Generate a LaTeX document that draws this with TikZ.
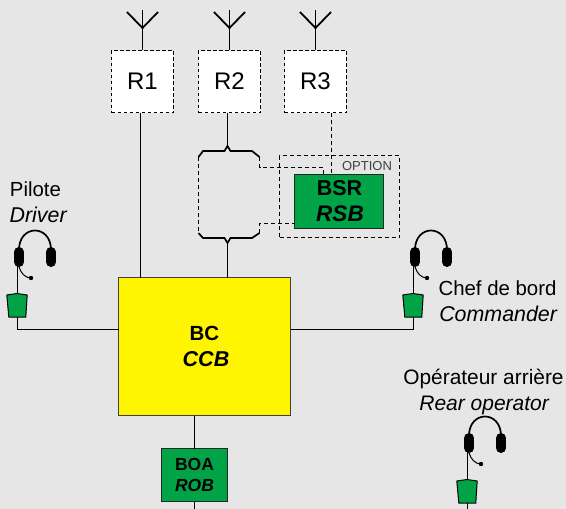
\documentclass[tikz,border=0pt]{standalone}
\usepackage{fontspec}
\setmainfont{Liberation Sans}
\usetikzlibrary{calc}
\definecolor{panelgrey}{HTML}{E6E6E6}
\definecolor{boxgreen}{HTML}{00A346}
\definecolor{boxyellow}{HTML}{FFF500}
\newcommand{\english}[2]{\textit{\fontsize{#1}{26}\selectfont #2}}

\begin{document}
\begin{tikzpicture}[x=1pt,y=-1pt,
	wire/.style={line width=1pt,black},
	dashwire/.style={line width=1pt,dash pattern=on 4pt off 3pt,black},
	brace/.style={line width=1.7pt,black},
	mast/.style={line width=1.8pt,black},
	radio/.style={draw,line width=1pt,dash pattern=on 3.5pt off 2.5pt,fill=white,minimum width=62pt,minimum height=62pt,inner sep=0pt,outer sep=0pt,font=\fontsize{24}{28}\selectfont},
	unit/.style={draw=black!85,line width=1pt,fill=boxgreen,inner sep=0pt,outer sep=0pt,align=center,font=\bfseries\fontsize{21.5}{26}\selectfont},
	crew/.style={align=center,inner sep=0pt,font=\fontsize{20.4}{26}\selectfont}
	]
\useasboundingbox (0,0) rectangle (566,509);
\fill[panelgrey] (0,0) rectangle (566,509);

% radios with their antennas
\foreach \n/\x in {1/142.5,2/229.5,3/315.5}
	{
	\coordinate (mast\n) at (\x,10);
	\coordinate (fork\n) at (\x,28);
	\coordinate (foot\n) at (\x,50);
	\draw [mast] (mast\n) -- (foot\n);
	\draw [mast] (\x-15.5,12) -- (fork\n) -- (\x+15.5,12);
	\node [radio] (R\n) at (\x,81.5) {R\n};
	}

% central box and small boxes
\node [draw=black!75,line width=1pt,fill=boxyellow,minimum width=172pt,minimum height=138pt,inner sep=0pt,outer sep=0pt,align=center,font=\bfseries\fontsize{20.5}{26}\selectfont] (BC) at (204.5,346.5) {BC\\\hspace*{3pt}\english{21.5}{CCB}};
\node [unit,minimum width=89pt,minimum height=54pt] (BSR) at (339,201.5) {\hspace*{1pt}BSR\\\hspace*{2pt}\english{22.5}{RSB}};
\node [unit,minimum width=66pt,minimum height=53pt,font=\bfseries\fontsize{17.5}{21}\selectfont] (BOA) at (194.5,475) {BOA\\\textit{ROB}};

% option frame
\node [draw,dashwire,minimum width=120pt,minimum height=82pt,inner sep=0pt,outer sep=0pt] (frame) at (339.5,196.5) {};
\node [inner sep=0pt,text=black!75,font=\fontsize{13}{15}\selectfont] (option) at (367,166) {OPTION};

% switch brackets
\coordinate (topL) at (198.5,157);
\coordinate (topR) at (259.5,157);
\coordinate (topM) at (227.5,146);
\coordinate (botL) at (198.5,233);
\coordinate (botR) at (259.5,233);
\coordinate (botM) at (227.5,243);
\draw [brace] (topL) -- (203,151) -- (224.5,151) -- (topM) -- (230.5,151) -- (252,151) -- (topR);
\draw [brace] (botL) -- (203,238) -- (224.5,238) -- (botM) -- (230.5,238) -- (252,238) -- (botR);
\draw [dashwire] (topL) -- (botL);
\draw [dashwire] (topR) -- (259.5,167.5) -- (323.5,167.5) -- (323.5,174.5);
\draw [dashwire] (botR) -- (259.5,223.5) -- (BSR.west |- 0,223.5);

% links
\coordinate (bottom) at (194.5,509);
\draw [wire] ([xshift=-2pt]R1.south) -- ([xshift=-2pt]R1.south |- BC.north);
\draw [wire] (topM |- R2.south) -- (topM);
\draw [wire] (botM) -- (botM |- BC.north);
\draw [dashwire] ([xshift=16pt]R3.south) -- ([xshift=16pt]R3.south |- BSR.north);
\draw [wire] (BC.south -| BOA.north) -- (BOA.north);
\draw [wire] (BOA.south) -- (bottom);

% headsets
\foreach \n/\x/\y in {L/0/0,C/396/0,A/450/186}
	{
	\coordinate (jack\n) at (17.5+\x,317+\y);
	\draw [line width=1.7pt] (19+\x,250+\y) .. controls (19+\x,224+\y) and (51+\x,224+\y) .. (51+\x,250+\y);
	\draw [line width=10pt,line cap=round] (19+\x,252+\y) -- (19+\x,262+\y);
	\draw [line width=10pt,line cap=round] (51+\x,252+\y) -- (51+\x,262+\y);
	\draw [line width=1pt] (19+\x,267+\y) .. controls (21+\x,273+\y) and (25+\x,278+\y) .. (31+\x,278+\y);
	\fill (31+\x,278+\y) circle (2.2pt);
	\draw [line width=1.4pt] (17.5+\x,262+\y) -- (17.5+\x,294+\y);
	\draw [line width=1pt,fill=boxgreen] (6.8+\x,295+\y) -- (17+\x,293.5+\y) -- (27.2+\x,295+\y) -- (25.8+\x,317+\y) -- (jack\n) -- (8.8+\x,317+\y) -- cycle;
	}
\draw [wire] (jackL) |- (BC.west |- 0,329.5);
\draw [wire] (jackC) |- (BC.east |- 0,329.5);
\coordinate (rearend) at ($(jackA)+(0,6)$);
\draw [wire] (jackA) -- (rearend);

% crew labels
\node [crew] (pilote) at (38.5,202) {\hspace*{-3pt}Pilote\hspace*{3pt}\\\english{21.4}{Driver}};
\node [crew] (chef) at (497.5,301) {Chef de bord\\\hspace*{2pt}\english{21.4}{Commander}};
\node [crew,font=\fontsize{20.9}{26}\selectfont] (rear) at (483.5,392) {Opérateur arrière\\\hspace*{2pt}\english{21}{Rear operator}};
\end{tikzpicture}
\end{document}
